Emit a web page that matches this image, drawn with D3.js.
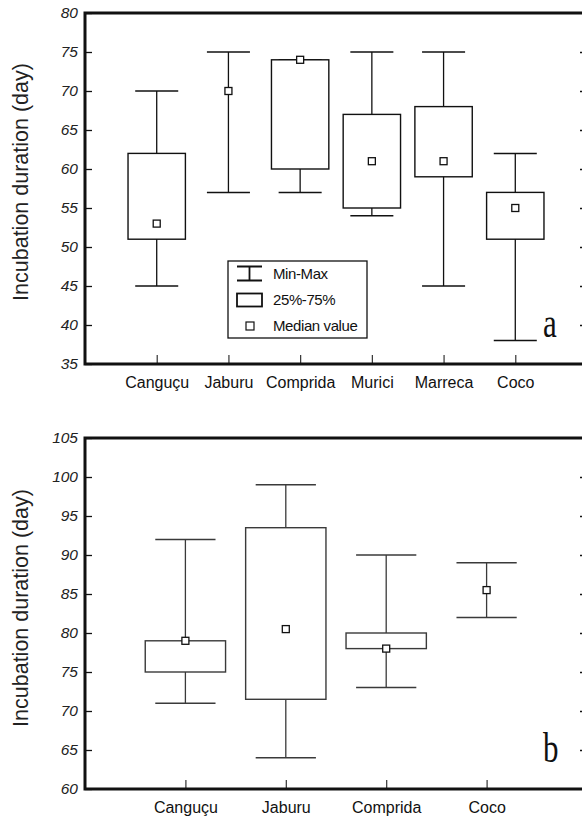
<!DOCTYPE html>
<html>
<head>
<meta charset="utf-8">
<script src="https://cdn.jsdelivr.net/npm/d3@7"></script>
<style>
  body { margin: 0; background: #fff; }
  svg { display: block; }
</style>
</head>
<body>
<div id="chart"></div>
<script>
// panel a
var sitesA = ["Canguçu", "Jaburu", "Comprida", "Murici", "Marreca", "Coco"];
var minA = [45, 57, 57, 54, 45, 38];
var maxA = [70, 75, 74, 75, 75, 62];
var q1A = [51, null, 60, 55, 59, 51];
var q3A = [62, null, 74, 67, 68, 57];
var medA = [53, 70, 74, 61, 61, 55];
var ticksA = [35, 40, 45, 50, 55, 60, 65, 70, 75, 80];

// panel b
var sitesB = ["Canguçu", "Jaburu", "Comprida", "Coco"];
var minB = [71, 64, 73, 82];
var maxB = [92, 99, 90, 89];
var q1B = [75, 71.5, 78, null];
var q3B = [79, 93.5, 80, null];
var medB = [79, 80.5, 78, 85.5];
var ticksB = [60, 65, 70, 75, 80, 85, 90, 95, 100, 105];

var legendLabels = ["Min-Max", "25%-75%", "Median value"];

var width = 582, height = 818;
var svg = d3.select("#chart").append("svg")
   .attr("width", width)
   .attr("height", height);

function drawPanel(opt) {
   var left = 85, right = 587;
   var x = d3.scalePoint().domain(opt.sites).range([left, right]).padding(1);
   var y = d3.scaleLinear().domain([opt.ticks[0], opt.ticks[opt.ticks.length - 1]])
      .range([opt.bottom, opt.top]);
   var step = x.step();
   var boxW = step * 0.8, capW = step * 0.6;
   var ink = opt.ink;

   var g = svg.append("g");

   var rows = opt.sites.map(function(s, i) {
      return { site: s, min: opt.min[i], max: opt.max[i], q1: opt.q1[i], q3: opt.q3[i], med: opt.med[i] };
   });

   // whiskers
   g.selectAll(".whisker").data(rows).enter().append("line")
      .attr("x1", function(d) { return x(d.site); })
      .attr("x2", function(d) { return x(d.site); })
      .attr("y1", function(d) { return y(d.min); })
      .attr("y2", function(d) { return y(d.max); })
      .attr("stroke", ink).attr("stroke-width", 1.3);

   ["min", "max"].forEach(function(k) {
      g.selectAll(".cap-" + k).data(rows).enter().append("line")
         .attr("x1", function(d) { return x(d.site) - capW / 2; })
         .attr("x2", function(d) { return x(d.site) + capW / 2; })
         .attr("y1", function(d) { return y(d[k]); })
         .attr("y2", function(d) { return y(d[k]); })
         .attr("stroke", ink).attr("stroke-width", 1.5);
   });

   // boxes
   g.selectAll(".box").data(rows.filter(function(d) { return d.q1 != null; })).enter().append("rect")
      .attr("x", function(d) { return x(d.site) - boxW / 2; })
      .attr("y", function(d) { return y(d.q3); })
      .attr("width", boxW)
      .attr("height", function(d) { return y(d.q1) - y(d.q3); })
      .attr("fill", "#fff")
      .attr("stroke", ink).attr("stroke-width", 1.4);

   // medians
   g.selectAll(".med").data(rows).enter().append("rect")
      .attr("x", function(d) { return x(d.site) - 3.5; })
      .attr("y", function(d) { return y(d.med) - 3.5; })
      .attr("width", 7).attr("height", 7)
      .attr("fill", "#fff")
      .attr("stroke", "#111").attr("stroke-width", 1.3);

   // axes
   var yAxis = d3.axisLeft(y).tickValues(opt.ticks).tickSize(-7).tickPadding(7);
   var ga = g.append("g").attr("transform", "translate(" + left + ",0)").call(yAxis);
   ga.select(".domain").remove();
   ga.selectAll("line").attr("stroke", "#111").attr("stroke-width", 1.3);
   ga.selectAll("text")
      .attr("font-family", "Liberation Sans, Arial, sans-serif")
      .attr("font-style", "italic")
      .attr("font-size", 15.5)
      .attr("fill", "#222");

   var yRight = d3.axisRight(y).tickValues(opt.ticks.slice(1, -1)).tickSize(-7).tickFormat("");
   var gr = g.append("g").attr("transform", "translate(" + right + ",0)").call(yRight);
   gr.select(".domain").remove();
   gr.selectAll("line").attr("stroke", "#111").attr("stroke-width", 1.3);

   var xAxis = d3.axisBottom(x).tickSize(-9).tickPadding(12.5);
   var gx = g.append("g").attr("transform", "translate(0," + opt.bottom + ")").call(xAxis);
   gx.select(".domain").remove();
   gx.selectAll("line").attr("stroke", "#333").attr("stroke-width", 1.2);
   gx.selectAll("text")
      .attr("font-family", "Liberation Sans, Arial, sans-serif")
      .attr("font-size", 16)
      .attr("fill", "#111");

   // frame
   g.append("path")
      .attr("d", "M" + right + "," + opt.top + "H" + left + "V" + opt.bottom + "H" + right + "V" + opt.top)
      .attr("fill", "none")
      .attr("stroke", "#111")
      .attr("stroke-width", 3);

   g.append("text")
      .attr("transform", "translate(28," + (opt.labelY) + ") rotate(-90)")
      .attr("text-anchor", "middle")
      .attr("font-family", "Liberation Sans, Arial, sans-serif")
      .attr("font-size", 21.5)
      .attr("fill", "#222")
      .text("Incubation duration (day)");

   g.append("text")
      .attr("transform", "translate(543," + opt.letterY + ") scale(1,1.35)")
      .attr("font-family", "Liberation Serif, Times New Roman, serif")
      .attr("font-size", 31)
      .attr("fill", "#111")
      .text(opt.letter);

   return { x: x, y: y, g: g };
}

var pa = drawPanel({
   sites: sitesA, min: minA, max: maxA, q1: q1A, q3: q3A, med: medA, ticks: ticksA,
   top: 13, bottom: 364, ink: "#111", labelY: 182, letter: "a", letterY: 337
});

drawPanel({
   sites: sitesB, min: minB, max: maxB, q1: q1B, q3: q3B, med: medB, ticks: ticksB,
   top: 438, bottom: 789, ink: "#3a3a3a", labelY: 608, letter: "b", letterY: 762
});

// legend in panel a
var lg = pa.g.append("g").attr("transform", "translate(228,261)");
lg.append("rect")
   .attr("width", 139).attr("height", 77)
   .attr("fill", "#fff").attr("stroke", "#111").attr("stroke-width", 1.3);

var rowY = [12.5, 39, 65];
var sym = lg.append("g");
// min-max symbol
sym.append("path")
   .attr("d", "M9," + (rowY[0] - 7) + "H34M21.5," + (rowY[0] - 7) + "V" + (rowY[0] + 7) + "M9," + (rowY[0] + 7) + "H34")
   .attr("fill", "none").attr("stroke", "#111").attr("stroke-width", 1.8);
sym.append("rect")
   .attr("x", 9).attr("y", rowY[1] - 6.5).attr("width", 25).attr("height", 13)
   .attr("fill", "#fff").attr("stroke", "#111").attr("stroke-width", 1.8);
sym.append("rect")
   .attr("x", 18).attr("y", rowY[2] - 4).attr("width", 8).attr("height", 8)
   .attr("fill", "#fff").attr("stroke", "#111").attr("stroke-width", 1.2);

lg.selectAll(".lab").data(legendLabels).enter().append("text")
   .attr("x", 45)
   .attr("y", function(d, i) { return rowY[i]; })
   .attr("dy", "0.35em")
   .attr("font-family", "Liberation Sans, Arial, sans-serif")
   .attr("font-size", 15)
   .attr("letter-spacing", -0.4)
   .attr("fill", "#111")
   .text(function(d) { return d; });
</script>
</body>
</html>
